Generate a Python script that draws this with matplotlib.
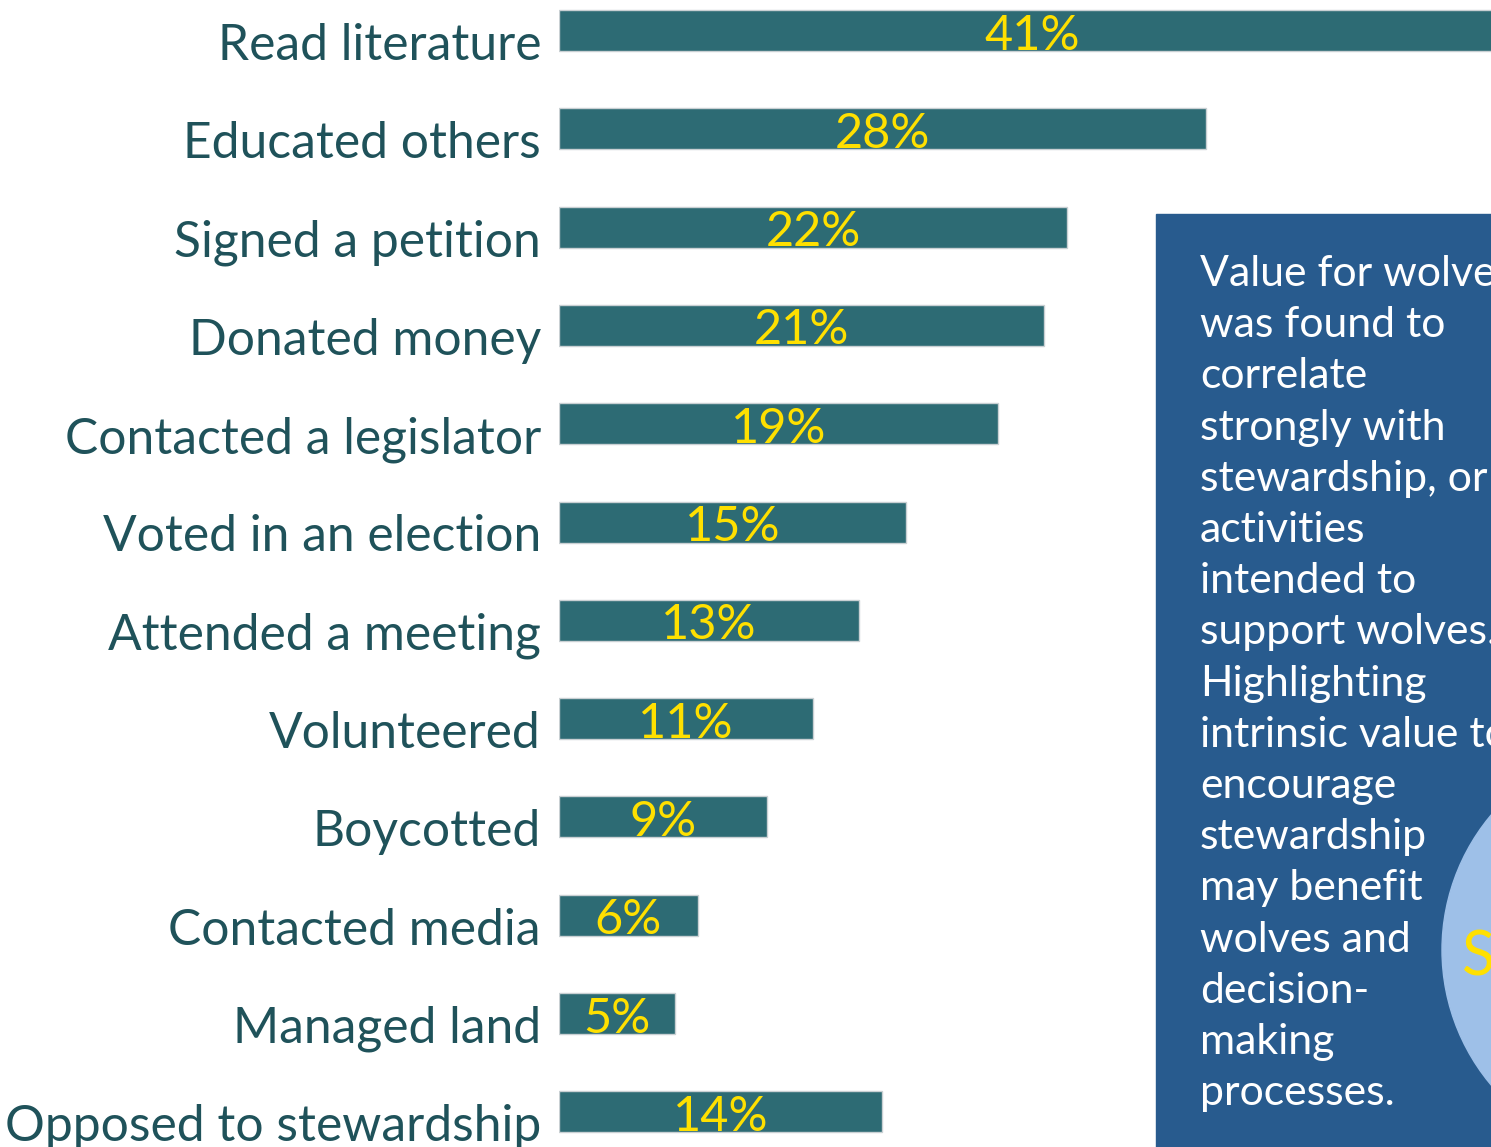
import matplotlib.pyplot as plt
from matplotlib.patches import Rectangle, Circle

# data
activities = ['Read literature', 'Educated others', 'Signed a petition', 'Donated money',
              'Contacted a legislator', 'Voted in an election', 'Attended a meeting',
              'Volunteered', 'Boycotted', 'Contacted media', 'Managed land',
              'Opposed to stewardship']
percent = [41, 28, 22, 21, 19, 15, 13, 11, 9, 6, 5, 14]

note_lines = ['Value for wolves', 'was found to', 'correlate', 'strongly with',
              'stewardship, or', 'activities', 'intended to', 'support wolves.',
              'Highlighting', 'intrinsic value to', 'encourage', 'stewardship',
              'may benefit', 'wolves and', 'decision-', 'making', 'processes.']

bar_color = '#2d6b74'
label_color = '#1f525a'
yellow = '#ffe000'
font = 'Lato'

W, H = 1491, 1147
fig = plt.figure(figsize=(W / 100, H / 100), dpi=100)

# bar axes: starts at x=559 px, 23.1 px per percent, rows 98.3 px apart
px_per_pct = 23.1
row = 98.3
x0 = 559
ax = fig.add_axes([x0 / W, 0, (W - x0) / W, 1])
ax.set_xlim(0, (W - x0) / px_per_pct)
top = -30.5 / row
ax.set_ylim(top + H / row, top)
ax.axis('off')

ypos = list(range(len(activities)))
bar_h = 41 / row
ax.barh(ypos, percent, height=bar_h, color=bar_color, edgecolor='#c9d0d3', linewidth=1)

for i, (name, v) in enumerate(zip(activities, percent)):
    ax.text(v / 2, i + bar_h / 2 - 0.015, f'{v}%', ha='center', va='baseline',
            color=yellow, fontsize=35, family=font)
    ax.text(-18 / px_per_pct, i + bar_h / 2 + 0.09, name, ha='right', va='baseline',
            color=label_color, fontsize=35.8, family=font, clip_on=False)

# overlay in pixel units for the side note
ov = fig.add_axes([0, 0, 1, 1])
ov.set_xlim(0, W)
ov.set_ylim(H, 0)
ov.axis('off')
ov.add_patch(Rectangle((1156, 214), 400, 1000, color='#285b8e'))
ov.add_patch(Circle((1652, 950), 210, color='#9ec0e8'))
for k, line in enumerate(note_lines):
    ov.text(1200, 286 + 51.2 * k, line, ha='left', va='baseline', color='white',
            fontsize=30.8, family=font)
ov.text(1462, 975, 'S', ha='left', va='baseline', color=yellow, fontsize=44, family=font)

fig.savefig('out.png', dpi=100)
